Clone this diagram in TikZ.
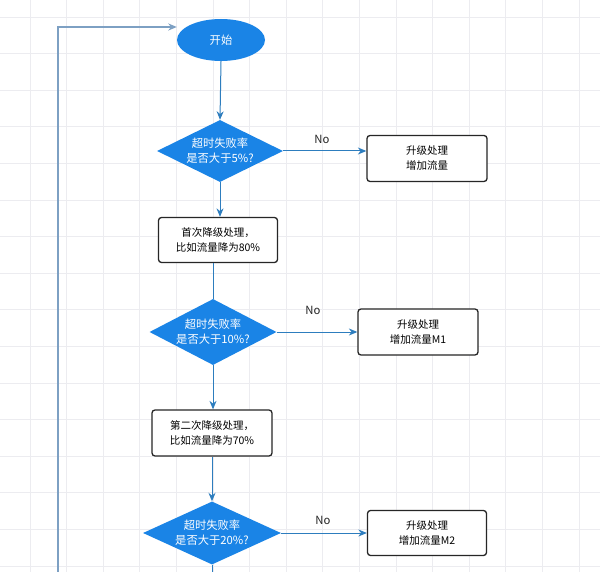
\documentclass[tikz,border=0pt]{standalone}
\usepackage{fontspec}
\setmainfont{Noto Sans CJK SC}
\usetikzlibrary{shapes.geometric,arrows.meta}
\definecolor{flowblue}{RGB}{26,132,230}
\definecolor{conn}{RGB}{45,125,190}
\definecolor{loopc}{RGB}{125,160,195}
\definecolor{gridc}{RGB}{236,236,240}
\begin{document}
\begin{tikzpicture}[x=1pt,y=-1pt,
  txt/.style={font=\fontsize{10.5}{15}\selectfont, align=center},
  dtxt/.style={font=\fontsize{11.3}{15}\selectfont, align=center},
  startnode/.style={ellipse, fill=flowblue, draw=none, text=white, minimum width=88, minimum height=42, inner sep=0, dtxt},
  decision/.style={diamond, fill=flowblue, draw=none, text=white, aspect=2, inner sep=0, dtxt},
  procbox/.style={rectangle, rounded corners=3pt, draw=black!85, line width=1.3pt, fill=white, minimum width=120, minimum height=46, inner sep=0, txt},
  arrowline/.style={draw=conn, line width=1pt, -{Stealth[length=8.5pt,width=7pt]}},
  plainline/.style={draw=conn, line width=1pt},
  loopline/.style={draw=loopc, line width=1.4pt},
  gridline/.style={draw=gridc, line width=0.8pt},
  nolabel/.style={font=\fontsize{11.3}{13}\selectfont, text=black!85}
]
\useasboundingbox (0,0) rectangle (600,572);
\fill[white] (0,0) rectangle (600,572);
\foreach \i in {0,...,15} {
  \draw[gridline] (30+36.6*\i,0) -- (30+36.6*\i,572);
  \draw[gridline] (0,17+36.6*\i) -- (600,17+36.6*\i);
}

\node[startnode] (start) at (221,40) {开始};
\node[decision, minimum width=126, minimum height=62] (d1) at (220,151) {超时失败率\\是否大于5\%?};
\node[procbox] (b1) at (427,158.5) {升级处理\\增加流量};
\node[procbox, minimum width=119, minimum height=45] (b2) at (218,240) {首次降级处理，\\比如流量降为80\%};
\node[decision, minimum width=127, minimum height=66] (d2) at (213,332) {超时失败率\\是否大于10\%?};
\node[procbox] (b3) at (418,332) {升级处理\\增加流量M1};
\node[procbox] (b4) at (212,433) {第二次降级处理，\\比如流量降为70\%};
\node[decision, minimum width=138, minimum height=63] (d3) at (212,533) {超时失败率\\是否大于20\%?};
\node[procbox, minimum width=119, minimum height=45] (b5) at (427,533) {升级处理\\增加流量M2};

\node[nolabel] (n1) at (322,139) {No};
\node[nolabel] (n2) at (313,310) {No};
\node[nolabel] (n3) at (323,520) {No};

\coordinate (bot) at (212,572);
\coordinate (lb) at (58,572);
\coordinate (lt) at (58,27);

\draw[arrowline] (start.south) -- (d1.north);
\draw[arrowline] (d1.east) -- (b1.west |- d1.east);
\draw[arrowline] (d1.south) -- (d1.south |- b2.north);
\draw[plainline] (d2.north |- b2.south) -- (d2.north);
\draw[arrowline] (d2.east) -- (b3.west);
\draw[arrowline] (d2.south) -- (d2.south |- b4.north);
\draw[arrowline] (b4.south) -- (d3.north);
\draw[arrowline] (d3.east) -- (b5.west);
\draw[plainline] (d3.south) -- (bot);
\draw[loopline, -{Stealth[length=8.5pt,width=7pt]}] (lb) -- (lt) -- (lt -| start.west);
\end{tikzpicture}
\end{document}
